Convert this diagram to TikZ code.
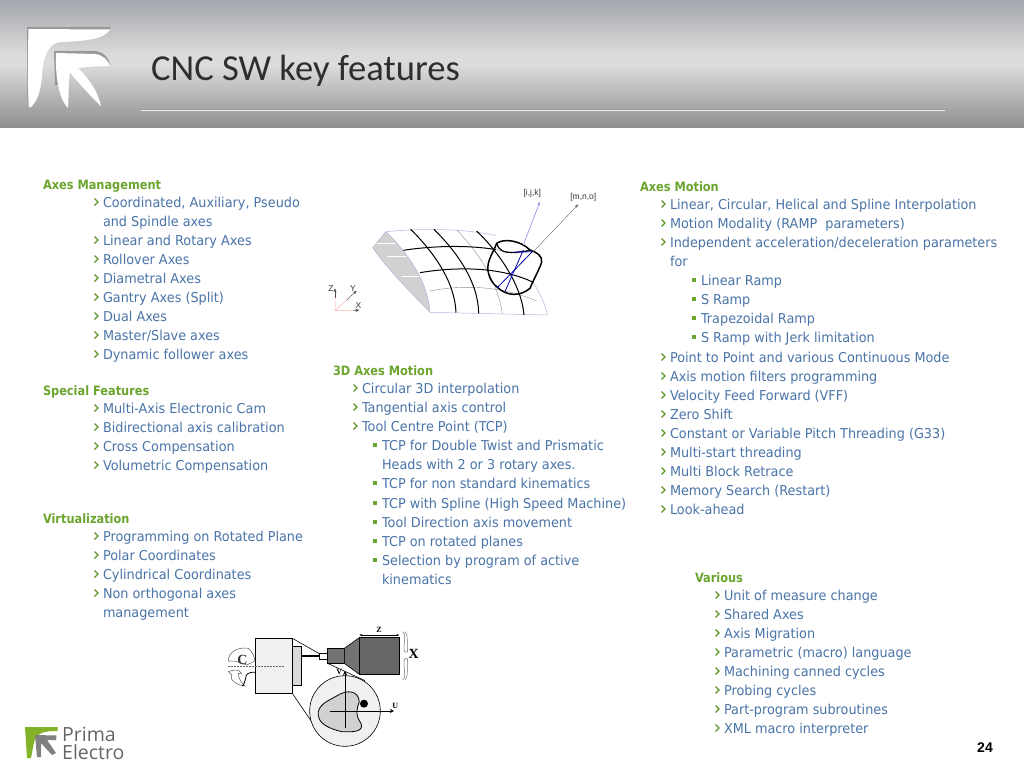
\documentclass[tikz,border=0pt]{standalone}
\usepackage{fontspec}
\usetikzlibrary{arrows.meta}
\setmainfont{DejaVu Sans}
\newfontfamily\bodyf[FakeStretch=0.943]{DejaVu Sans}
\newfontfamily\headf[FakeStretch=0.88]{DejaVu Sans}
\newfontfamily\titlef{Carlito}
\newfontfamily\arialf{Liberation Sans}
\newfontfamily\serf{Liberation Serif}
\newfontfamily\logof{Open Sans}
\definecolor{bluet}{HTML}{4A74A8}
\definecolor{greent}{HTML}{6BA52E}
\definecolor{lav}{HTML}{B4B4DC}
\definecolor{hdtop}{HTML}{A4A8AE}
\definecolor{hdmid}{HTML}{DCDCDC}
\definecolor{hdbot}{HTML}{8E8E8E}
\newcounter{tn}
\tikzset{
  txt/.style={anchor=base west,inner sep=0pt,outer sep=0pt,text=bluet,font=\bodyf\fontsize{13.6}{15}\selectfont},
  hd/.style={anchor=base west,inner sep=0pt,outer sep=0pt,text=greent,font=\headf\bfseries\fontsize{12.9}{15}\selectfont},
  lab/.style={inner sep=0pt,outer sep=0pt,font=\arialf\fontsize{8.5}{10}\selectfont,text=black!80},
  slab/.style={inner sep=0pt,outer sep=0pt,font=\serf\bfseries\fontsize{8}{10}\selectfont,text=black},
  surfthin/.style={draw=lav,line width=0.5pt},
  surfgray/.style={draw=black!45,line width=0.4pt},
  surfbold/.style={draw=black,line width=1pt},
  toolb/.style={draw=black,line width=1.5pt},
  bluel/.style={draw=blue!70!black,line width=0.8pt},
  mach/.style={draw=black,line width=0.6pt},
  thinar/.style={-{Stealth[length=4pt,width=3pt]}},
}
\newcommand{\hdr}[3]{\stepcounter{tn}\node[hd] (t\thetn) at (#1,#2+5) {#3};}
\newcommand{\plainl}[3]{\stepcounter{tn}\node[txt] (t\thetn) at (#1,#2+5.2) {#3};}
\newcommand{\chv}[3]{\draw[greent!90!black,line width=1.1pt] (#1-8.5,#2-3.5) -- (#1-5,#2) -- (#1-8.5,#2+3.5);\plainl{#1}{#2}{#3}}
\newcommand{\sqb}[3]{\fill[greent] (#1-9,#2-2) rectangle (#1-5,#2+2);\plainl{#1}{#2}{#3}}
\begin{document}
\begin{tikzpicture}[x=1pt,y=-1pt]
\useasboundingbox (0,0) rectangle (1024,768);
\fill[white] (0,0) rectangle (1024,768);
% header
\shade[top color=hdtop,bottom color=hdmid] (0,1) rectangle (1024,55);
\fill[hdmid] (0,54) rectangle (1024,66);
\shade[top color=hdmid,bottom color=hdbot] (0,65) rectangle (1024,127.5);
\draw[black!40,line width=0.5pt] (141,109.3) -- (945,109.3);
\draw[white!95!black,line width=1.5pt] (141,110.6) -- (945,110.6);
% header logo
\fill[black!40] (27,27) -- (111,27) .. controls (108,36) and (90,40) .. (60,40) -- (30,60) -- (27,107) -- cycle;
\fill[white] (28.5,29) -- (110,29.5) .. controls (105,38) and (90,41) .. (62,42) .. controls (47,42) and (43,60) .. (42,75) .. controls (41,90) and (38,100) .. (31,107) -- (29,107) .. controls (27,80) and (28,50) .. (28.5,29) -- cycle;
\fill[black!40] (54,51) -- (95,51) .. controls (104,52) and (109,58) .. (110,65) -- (80,67) -- (58,85) -- (55,85) -- cycle;
\fill[white] (56,53) -- (95,54) .. controls (103,55) and (108,60) .. (110,66) .. controls (100,66) and (86,67) .. (78,68) .. controls (90,80) and (98,92) .. (101,106) .. controls (92,98) and (80,84) .. (70,73) .. controls (68,85) and (69,97) .. (68,108) .. controls (60,100) and (55,80) .. (56,53) -- cycle;
\node[anchor=base west,inner sep=0pt,text=black!82,font=\titlef\fontsize{36.6}{40}\selectfont] (title) at (151,81) {CNC SW key features};
% left column
\hdr{43}{184}{Axes Management}
\chv{103}{202}{Coordinated, Auxiliary, Pseudo}
\plainl{103}{221}{and Spindle axes}
\chv{103}{240}{Linear and Rotary Axes}
\chv{103}{259}{Rollover Axes}
\chv{103}{278}{Diametral Axes}
\chv{103}{297}{Gantry Axes (Split)}
\chv{103}{316}{Dual Axes}
\chv{103}{335}{Master/Slave axes}
\chv{103}{354}{Dynamic follower axes}
\hdr{43}{390}{Special Features}
\chv{103}{408}{Multi-Axis Electronic Cam}
\chv{103}{427}{Bidirectional axis calibration}
\chv{103}{446}{Cross Compensation}
\chv{103}{465}{Volumetric Compensation}
\hdr{43}{518}{Virtualization}
\chv{103}{536}{Programming on Rotated Plane}
\chv{103}{555}{Polar Coordinates}
\chv{103}{574}{Cylindrical Coordinates}
\chv{103}{593}{Non orthogonal axes}
\plainl{103}{612}{management}
% middle column
\hdr{333}{370}{3D Axes Motion}
\chv{362}{388}{Circular 3D interpolation}
\chv{362}{407}{Tangential axis control}
\chv{362}{426}{Tool Centre Point (TCP)}
\sqb{382}{445}{TCP for Double Twist and Prismatic}
\plainl{382}{464}{Heads with 2 or 3 rotary axes.}
\sqb{382}{483}{TCP for non standard kinematics}
\sqb{382}{503}{TCP with Spline (High Speed Machine)}
\sqb{382}{522}{Tool Direction axis movement}
\sqb{382}{541}{TCP on rotated planes}
\sqb{382}{560}{Selection by program of active}
\plainl{382}{579}{kinematics}
% right column
\hdr{640}{186}{Axes Motion}
\chv{670}{204}{Linear, Circular, Helical and Spline Interpolation}
\chv{670}{223}{Motion Modality (RAMP\ \ parameters)}
\chv{670}{242}{Independent acceleration/deceleration parameters}
\plainl{670}{261}{for}
\sqb{701}{280}{Linear Ramp}
\sqb{701}{299}{S Ramp}
\sqb{701}{318}{Trapezoidal Ramp}
\sqb{701}{337}{S Ramp with Jerk limitation}
\chv{670}{357}{Point to Point and various Continuous Mode}
\chv{670}{376}{Axis motion filters programming}
\chv{670}{395}{Velocity Feed Forward (VFF)}
\chv{670}{414}{Zero Shift}
\chv{670}{433}{Constant or Variable Pitch Threading (G33)}
\chv{670}{452}{Multi-start threading}
\chv{670}{471}{Multi Block Retrace}
\chv{670}{490}{Memory Search (Restart)}
\chv{670}{509}{Look-ahead}
\hdr{695}{577}{Various}
\chv{724}{595}{Unit of measure change}
\chv{724}{614}{Shared Axes}
\chv{724}{633}{Axis Migration}
\chv{724}{652}{Parametric (macro) language}
\chv{724}{671}{Machining canned cycles}
\chv{724}{690}{Probing cycles}
\chv{724}{709}{Part-program subroutines}
\chv{724}{728}{XML macro interpreter}
% page number
\node[anchor=base east,inner sep=0pt,font=\arialf\bfseries\fontsize{14}{16}\selectfont] (page) at (993,752) {24};
% bottom logo
\fill[greent!85!yellow] (25,727) -- (57.5,727) -- (57.5,731) .. controls (45,731) and (35,732) .. (33.5,745) -- (31,758) -- (27,758) -- cycle;
\fill[black!50] (35,735) -- (56.5,735.5) -- (56,740) -- (47,740) -- (56,753) -- (52,755) -- (41,743) -- (41,757) -- (37,757) -- cycle;
\node[anchor=base west,inner sep=0pt,text=black!60,font=\logof\fontsize{19.5}{20}\selectfont] (prima) at (62,741.5) {Prima};
\node[anchor=base west,inner sep=0pt,text=black!60,font=\logof\fontsize{19.5}{20}\selectfont] (electro) at (62,759) {Electro};
% surface diagram
\begin{scope}[shift={(320,175)},x=0.3333pt,y=-0.3333pt]
\fill[black!18] (198,170) .. controls (260,230) and (325,320) .. (330,412) .. controls (270,350) and (200,280) .. (158,218) -- cycle;
\draw[white,line width=0.6pt] (168,205) -- (225,205) (200,245) -- (265,245) (245,303) -- (300,303);
\draw[surfthin] (158,218) -- (198,170) .. controls (300,160) and (430,160) .. (530,182);
\draw[surfthin] (158,218) .. controls (200,280) and (270,350) .. (330,412) -- (683,420);
\draw[surfthin] (198,170) .. controls (260,230) and (325,320) .. (330,412);
\draw[surfthin] (640,325) .. controls (665,360) and (675,390) .. (683,420);
\draw[surfgray] (410,165) .. controls (470,225) and (535,320) .. (547,417);
\draw[surfgray] (330,348) .. controls (420,330) and (540,330) .. (650,378);
\draw[surfbold] (272,163) .. controls (340,230) and (405,320) .. (408,413);
\draw[surfbold] (342,163) .. controls (410,230) and (475,320) .. (476,415);
\draw[surfbold] (470,168) .. controls (535,230) and (605,330) .. (612,420);
\draw[surfbold] (250,226) .. controls (340,212) and (450,210) .. (528,224);
\draw[surfbold] (300,293) .. controls (390,278) and (530,270) .. (640,322);
\draw[surfgray] (528,224) -- (590,235);
\draw[toolb] (530,205) .. controls (550,190) and (600,195) .. (630,225) .. controls (650,232) and (668,242) .. (665,262) .. controls (655,290) and (640,315) .. (630,340) .. controls (600,365) and (560,365) .. (530,335) .. controls (505,315) and (498,280) .. (508,255) .. controls (515,235) and (525,220) .. (530,205) -- cycle;
\draw[toolb,line width=1.2pt] (530,205) .. controls (535,225) and (550,235) .. (585,232) .. controls (600,230) and (620,230) .. (630,225);
\draw[bluel] (532,338) -- (637,230);
\draw[bluel] (555,350) -- (610,225);
\draw[bluel] (582,232) -- (637,230);
\coordinate (ijk0) at (610,210); \coordinate (ijk1) at (660,80);
\coordinate (mno0) at (640,230); \coordinate (mno1) at (775,88);
\draw[lav!80!blue,line width=0.6pt,thinar] (ijk0) -- (ijk1);
\draw[black!60,line width=0.4pt,thinar] (mno0) -- (mno1);
\node[lab] (ijk) at (637,56) {[i,j,k]};
\node[lab] (mno) at (790,68) {[m,n,o]};
\coordinate (o) at (45,407); \coordinate (ze) at (45,340); \coordinate (ye) at (110,347); \coordinate (xe) at (118,405);
\draw[red!30,line width=0.5pt] (o) -- (45,370) (o) -- (80,375) (o) -- (100,407);
\draw[black!70,line width=0.4pt,thinar] (45,370) -- (ze);
\draw[black!70,line width=0.4pt,thinar] (80,375) -- (ye);
\draw[black!70,line width=0.4pt,thinar] (100,407) -- (xe);
\node[lab] (zl) at (33,340) {Z};
\node[lab] (yl) at (99,342) {Y};
\node[lab] (xl) at (115,393) {X};
\end{scope}
% machine diagram
\begin{scope}[shift={(215,615)},x=0.3333pt,y=-0.3333pt]
\draw[mach] (232,70) -- (313,116);
\draw[mach] (232,235) -- (300,335);
\draw[mach] (338,145) -- (450,197);
\draw[mach,fill=black!6] (122,70) rectangle (232,235);
\draw[mach,fill=black!15] (232,95) rectangle (258,210);
\fill[black] (258,121) rectangle (313,127);
\draw[mach,fill=white] (313,116) rectangle (338,134);
\draw[mach,fill=black!55] (338,100) rectangle (388,145);
\draw[mach,fill=black!55] (388,100) -- (433,68) -- (433,178) -- (388,145) -- cycle;
\draw[mach,fill=black!60] (433,68) rectangle (553,178);
\draw[black,line width=0.6pt,{Stealth[length=3pt]}-{Stealth[length=3pt]}] (433,60) -- (553,60);
\node[slab] (zt) at (492,46) {Z};
\draw[mach,fill=black!6] (390,288) circle (106);
\draw[mach,fill=black!18,line width=0.8pt] (310,290) .. controls (315,265) and (345,255) .. (370,240) .. controls (395,225) and (430,225) .. (433,260) .. controls (425,280) and (420,300) .. (438,325) .. controls (448,350) and (415,352) .. (380,350) .. controls (340,340) and (305,325) .. (310,290) -- cycle;
\fill[black] (447,266) circle (12);
\coordinate (vb) at (390,340); \coordinate (vt) at (390,168);
\coordinate (ub) at (345,288); \coordinate (ut) at (537,288);
\draw[black,line width=0.6pt,-{Stealth[length=4pt,width=4pt]}] (vb) -- (vt);
\draw[black,line width=0.6pt,-{Stealth[length=4pt,width=4pt]}] (ub) -- (ut);
\node[slab] (vl) at (373,172) {V};
\node[slab] (ul) at (541,272) {U};
\node[inner sep=0pt,font=\serf\bfseries\fontsize{14}{16}\selectfont] (xbig) at (596,118) {X};
\draw[black!55,line width=0.5pt] (563,50) .. controls (575,55) and (565,80) .. (568,110) .. controls (570,112) and (575,112) .. (578,110) .. controls (574,90) and (582,65) .. (571,50);
\draw[black!55,line width=0.5pt] (563,195) .. controls (575,190) and (565,165) .. (568,132) .. controls (570,130) and (575,130) .. (578,132) .. controls (574,155) and (582,180) .. (571,195);
% C rotation arrows
\draw[black!65,line width=0.5pt,fill=white] (40,138) .. controls (40,110) and (70,95) .. (100,100) .. controls (112,110) and (118,125) .. (120,138) -- (95,150) -- (60,138) -- cycle;
\draw[black!65,line width=0.5pt,fill=white] (40,170) .. controls (55,165) and (70,160) .. (80,175) -- (70,175) .. controls (70,190) and (80,205) .. (90,213) .. controls (60,210) and (42,190) .. (50,180) -- cycle;
\draw[black,line width=0.8pt] (122,172) .. controls (100,170) and (92,178) .. (92,190) .. controls (90,200) and (86,210) .. (82,213);
\draw[black!60,line width=0.6pt,dash pattern=on 2pt off 1pt] (40,155) -- (210,155);
\node[inner sep=0pt,font=\serf\bfseries\fontsize{14}{16}\selectfont,text=black!80] (cl) at (82,136) {C};
\end{scope}
\end{tikzpicture}
\end{document}
